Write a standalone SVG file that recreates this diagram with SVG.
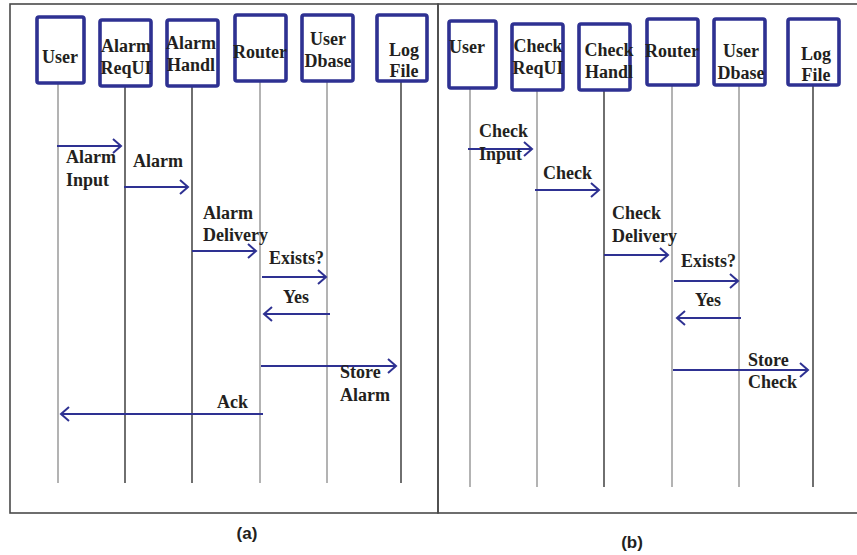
<svg xmlns="http://www.w3.org/2000/svg" width="857" height="555" viewBox="0 0 857 555">
  <style>
    .frame { fill: none; stroke: #4a4a4a; stroke-width: 1.6; }
    .box { fill: #fff; stroke: #2e3192; stroke-width: 3.6; }
    .life { stroke-width: 1.3; fill: none; }
    .g { stroke: #8a8a8a; }
    .k { stroke: #222; }
    .msg { stroke: #2e3192; stroke-width: 2; fill: none; }
    text { font-family: "Liberation Serif", "Times New Roman", serif; font-weight: bold; font-size: 18px; fill: #231f20; }
    .nm { text-anchor: middle; }
    .cap { font-family: "Liberation Sans", Arial, sans-serif; font-size: 17px; text-anchor: middle; }
  </style>
  <defs>
    <marker id="arr" markerWidth="12" markerHeight="18" refX="9" refY="8" orient="auto" markerUnits="userSpaceOnUse">
      <path d="M1,1 L9,8 L1,15" fill="none" stroke="#2e3192" stroke-width="2"/>
    </marker>
  </defs>

  <!-- panel frames -->
  <rect class="frame" x="10" y="4" width="428" height="509"/>
  <rect class="frame" x="438" y="4" width="430" height="509"/>

  <!-- panel (a) lifelines -->
  <g id="lifelines-a">
    <line class="life g" x1="58" y1="82" x2="58" y2="483"/>
    <line class="life k" x1="125" y1="87" x2="125" y2="483"/>
    <line class="life k" x1="192" y1="87" x2="192" y2="483"/>
    <line class="life g" x1="260" y1="82" x2="260" y2="483"/>
    <line class="life g" x1="327" y1="82" x2="327" y2="483"/>
    <line class="life k" x1="401" y1="82" x2="401" y2="483"/>
  </g>

  <!-- panel (b) lifelines -->
  <g id="lifelines-b">
    <line class="life g" x1="470" y1="86" x2="470" y2="487"/>
    <line class="life g" x1="537" y1="90" x2="537" y2="487"/>
    <line class="life k" x1="604" y1="90" x2="604" y2="487"/>
    <line class="life g" x1="672" y1="85" x2="672" y2="487"/>
    <line class="life g" x1="739" y1="85" x2="739" y2="487"/>
    <line class="life k" x1="813" y1="86" x2="813" y2="487"/>
  </g>

  <!-- panel (a) participants -->
  <g id="a-user">
    <rect class="box" x="37" y="17" width="47" height="66" rx="2"/>
    <text class="nm" x="60" y="63">User</text>
  </g>
  <g id="a-requi">
    <rect class="box" x="100" y="20" width="51" height="66" rx="2"/>
    <text class="nm" x="126" y="52">Alarm</text>
    <text class="nm" x="126" y="74">ReqUI</text>
  </g>
  <g id="a-handl">
    <rect class="box" x="167" y="20" width="51" height="66" rx="2"/>
    <text class="nm" x="191" y="49">Alarm</text>
    <text class="nm" x="191" y="71">Handl</text>
  </g>
  <g id="a-router">
    <rect class="box" x="235" y="15" width="51" height="66" rx="2"/>
    <text class="nm" x="260" y="58">Router</text>
  </g>
  <g id="a-dbase">
    <rect class="box" x="302" y="15" width="51" height="66" rx="2"/>
    <text class="nm" x="328" y="45">User</text>
    <text class="nm" x="328" y="67">Dbase</text>
  </g>
  <g id="a-log">
    <rect class="box" x="377" y="15" width="50" height="66" rx="2"/>
    <text class="nm" x="404" y="56">Log</text>
    <text class="nm" x="404" y="77">File</text>
  </g>

  <!-- panel (b) participants -->
  <g id="b-user">
    <rect class="box" x="449" y="21" width="47" height="67" rx="2"/>
    <text class="nm" x="467" y="53">User</text>
  </g>
  <g id="b-requi">
    <rect class="box" x="512" y="24" width="51" height="66" rx="2"/>
    <text class="nm" x="538" y="52">Check</text>
    <text class="nm" x="538" y="74">ReqUI</text>
  </g>
  <g id="b-handl">
    <rect class="box" x="579" y="24" width="51" height="66" rx="2"/>
    <text class="nm" x="609" y="56">Check</text>
    <text class="nm" x="609" y="78">Handl</text>
  </g>
  <g id="b-router">
    <rect class="box" x="647" y="19" width="51" height="66" rx="2"/>
    <text class="nm" x="672" y="57">Router</text>
  </g>
  <g id="b-dbase">
    <rect class="box" x="714" y="19" width="51" height="66" rx="2"/>
    <text class="nm" x="741" y="57">User</text>
    <text class="nm" x="741" y="79">Dbase</text>
  </g>
  <g id="b-log">
    <rect class="box" x="788" y="19" width="51" height="66" rx="2"/>
    <text class="nm" x="816" y="60">Log</text>
    <text class="nm" x="816" y="81">File</text>
  </g>

  <!-- messages -->
  <g id="connectors">
    <line class="msg" x1="57" y1="146" x2="121" y2="146" marker-end="url(#arr)"/>
    <line class="msg" x1="124" y1="187" x2="188" y2="187" marker-end="url(#arr)"/>
    <line class="msg" x1="192" y1="251" x2="256" y2="251" marker-end="url(#arr)"/>
    <line class="msg" x1="262" y1="277" x2="326" y2="277" marker-end="url(#arr)"/>
    <line class="msg" x1="330" y1="314" x2="264" y2="314" marker-end="url(#arr)"/>
    <line class="msg" x1="261" y1="366" x2="396" y2="366" marker-end="url(#arr)"/>
    <line class="msg" x1="263" y1="414" x2="61" y2="414" marker-end="url(#arr)"/>

    <line class="msg" x1="468" y1="149" x2="532" y2="149" marker-end="url(#arr)"/>
    <line class="msg" x1="535" y1="190" x2="599" y2="190" marker-end="url(#arr)"/>
    <line class="msg" x1="604" y1="255" x2="668" y2="255" marker-end="url(#arr)"/>
    <line class="msg" x1="674" y1="281" x2="738" y2="281" marker-end="url(#arr)"/>
    <line class="msg" x1="741" y1="318" x2="677" y2="318" marker-end="url(#arr)"/>
    <line class="msg" x1="673" y1="370" x2="808" y2="370" marker-end="url(#arr)"/>
  </g>

  <!-- message labels -->
  <g id="labels-a">
    <text x="66" y="163">Alarm</text>
    <text x="66" y="186">Input</text>
    <text x="133" y="167">Alarm</text>
    <text x="203" y="219">Alarm</text>
    <text x="203" y="241">Delivery</text>
    <text x="269" y="264">Exists?</text>
    <text x="283" y="303">Yes</text>
    <text x="340" y="378">Store</text>
    <text x="340" y="401">Alarm</text>
    <text x="217" y="408">Ack</text>
  </g>
  <g id="labels-b">
    <text x="479" y="137">Check</text>
    <text x="479" y="160">Input</text>
    <text x="543" y="179">Check</text>
    <text x="612" y="219">Check</text>
    <text x="612" y="242">Delivery</text>
    <text x="681" y="267">Exists?</text>
    <text x="695" y="306">Yes</text>
    <text x="748" y="366">Store</text>
    <text x="748" y="388">Check</text>
  </g>

  <text class="cap" x="247" y="539">(a)</text>
  <text class="cap" x="632" y="548">(b)</text>
</svg>
